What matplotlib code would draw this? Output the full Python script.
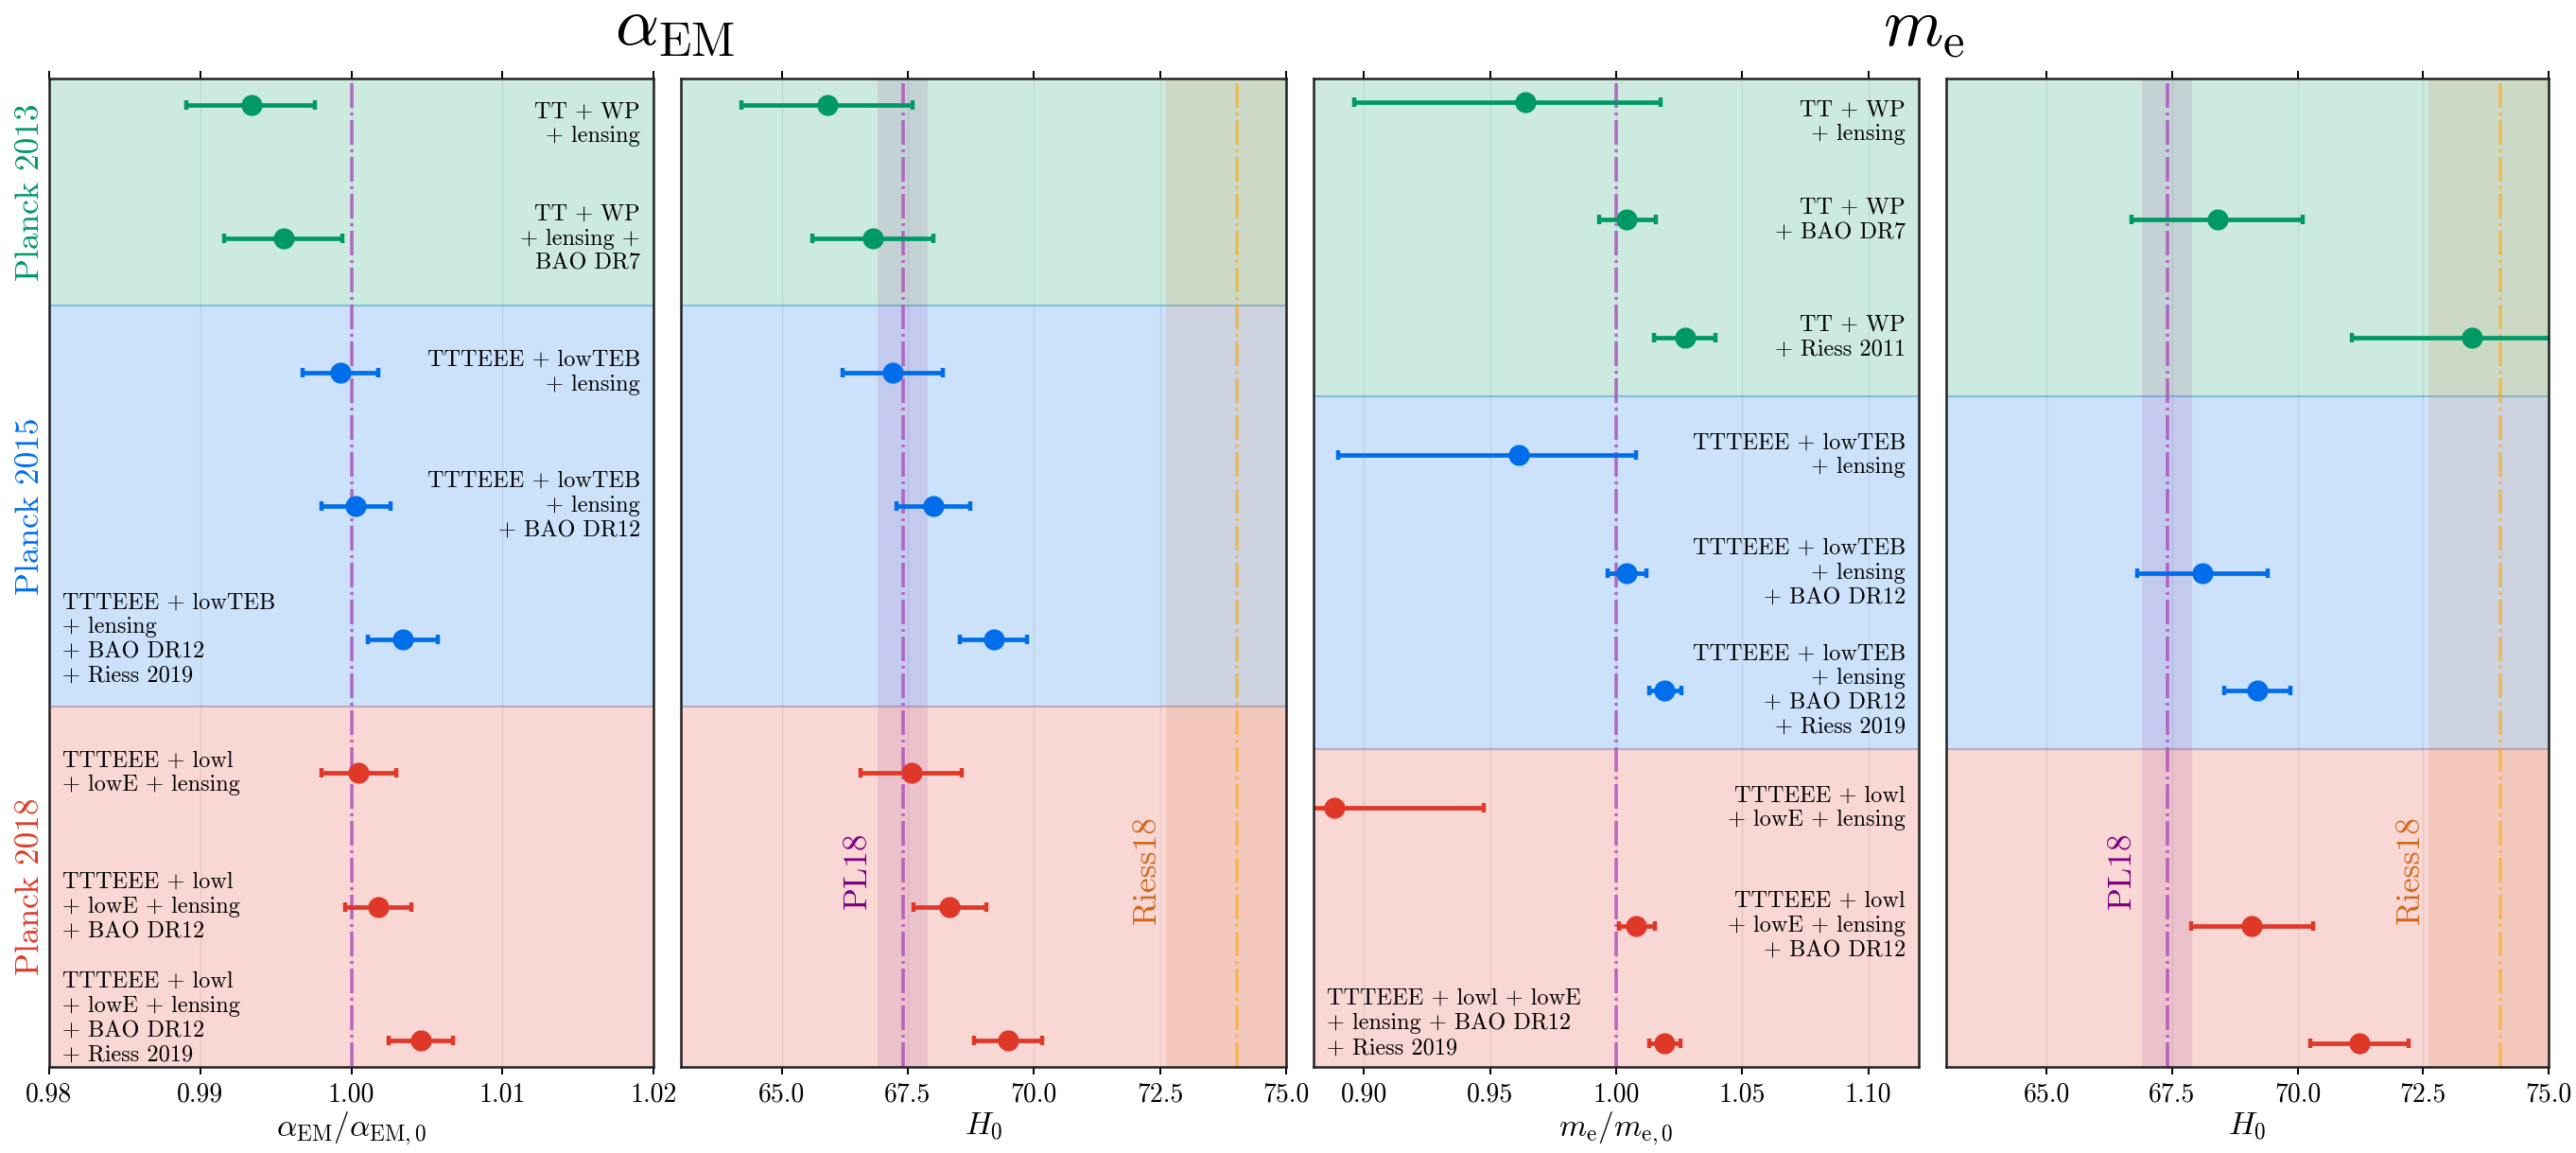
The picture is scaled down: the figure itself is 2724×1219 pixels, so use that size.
import numpy as np
import matplotlib
matplotlib.use("Agg")
import matplotlib.pyplot as plt
import matplotlib.transforms as mtransforms
from matplotlib.ticker import MultipleLocator, FormatStrFormatter

plt.rcParams["font.family"] = "serif"
plt.rcParams["font.serif"] = ["cmr10"]
plt.rcParams["mathtext.fontset"] = "cm"
plt.rcParams["axes.formatter.use_mathtext"] = True
plt.rcParams["axes.unicode_minus"] = False

GREEN = "#009966"
BLUE = "#006eeb"
RED = "#e03828"
GROUP_COLORS = [GREEN, BLUE, RED]
GROUP_NAMES = ["Planck 2013", "Planck 2015", "Planck 2018"]

# --- alpha_EM runs ---
alpha_group = [0, 0, 1, 1, 1, 2, 2, 2]
alpha_labels = [
    "TT + WP\n+ lensing",
    "TT + WP\n+ lensing +\nBAO DR7",
    "TTTEEE + lowTEB\n+ lensing",
    "TTTEEE + lowTEB\n+ lensing\n+ BAO DR12",
    "TTTEEE + lowTEB\n+ lensing\n+ BAO DR12\n+ Riess 2019",
    "TTTEEE + lowl\n+ lowE + lensing",
    "TTTEEE + lowl\n+ lowE + lensing\n+ BAO DR12",
    "TTTEEE + lowl\n+ lowE + lensing\n+ BAO DR12\n+ Riess 2019",
]
alpha_val = [0.9934, 0.9955, 0.9993, 1.0003, 1.0034, 1.0005, 1.0018, 1.0046]
alpha_lo = [0.0043, 0.0039, 0.0025, 0.0023, 0.0023, 0.0025, 0.0022, 0.0021]
alpha_hi = [0.0042, 0.0039, 0.0025, 0.0023, 0.0023, 0.0025, 0.0022, 0.0021]
alpha_H0 = [65.9, 66.8, 67.2, 68.0, 69.2, 67.57, 68.33, 69.49]
alpha_H0_err = [1.7, 1.2, 1.0, 0.73, 0.66, 1.0, 0.72, 0.67]

# --- m_e runs ---
me_group = [0, 0, 0, 1, 1, 1, 2, 2, 2]
me_labels = [
    "TT + WP\n+ lensing",
    "TT + WP\n+ BAO DR7",
    "TT + WP\n+ Riess 2011",
    "TTTEEE + lowTEB\n+ lensing",
    "TTTEEE + lowTEB\n+ lensing\n+ BAO DR12",
    "TTTEEE + lowTEB\n+ lensing\n+ BAO DR12\n+ Riess 2019",
    "TTTEEE + lowl\n+ lowE + lensing",
    "TTTEEE + lowl\n+ lowE + lensing\n+ BAO DR12",
    "TTTEEE + lowl + lowE\n+ lensing + BAO DR12\n+ Riess 2019",
]
me_val = [0.9639, 1.0041, 1.0272, 0.9613, 1.0041, 1.0193, 0.8881, 1.0080, 1.0193]
me_lo = [0.0676, 0.0110, 0.0121, 0.0717, 0.0075, 0.0060, 0.0600, 0.0069, 0.0060]
me_hi = [0.0537, 0.0115, 0.0123, 0.0467, 0.0079, 0.0064, 0.0595, 0.0074, 0.0061]
me_H0 = [np.nan, 68.4, 73.48, np.nan, 68.1, 69.2, np.nan, 69.09, 71.23]
me_H0_err = [np.nan, 1.7, 2.39, np.nan, 1.3, 0.66, np.nan, 1.21, 0.98]

# reference H0 values
PL18_H0, PL18_err = 67.4, 0.5
RIESS_H0, RIESS_err = 74.03, 1.42

# label layout (side of the panel, vertical nudge in row units)
alpha_side = ["right", "right", "right", "right", "left", "left", "left", "left"]
alpha_shift = [0.14, 0, 0, 0, 0, 0, 0, -0.165]
me_side = ["right"] * 8 + ["left"]
me_shift = [0.17, 0, 0, 0, 0, 0, 0, 0, -0.17]

LINE_PURPLE = "#a844b8"

W, H = 2724, 1219
fig = plt.figure(figsize=(W / 100, H / 100), dpi=100)
bottom = 1 - 1128 / H
height = 1045 / H
lefts = [52, 720, 1389, 2058]
widths = [639, 640, 640, 637]
axes = [fig.add_axes([l / W, bottom, w / W, height]) for l, w in zip(lefts, widths)]


def style(ax, groups, xlim, major, fmt):
    n = len(groups)
    ax.set_xlim(*xlim)
    ax.set_ylim(n - 1 + 0.2, -0.2)
    groups = np.array(groups)
    for g in range(3):
        idx = np.where(groups == g)[0]
        lo = idx.min() - 0.5 if idx.min() > 0 else -1
        hi = idx.max() + 0.5 if idx.max() < n - 1 else n + 1
        ax.axhspan(lo, hi, color=GROUP_COLORS[g], alpha=0.2, lw=1.5, zorder=0.8)
    ax.xaxis.set_major_locator(MultipleLocator(major))
    ax.xaxis.set_major_formatter(FormatStrFormatter(fmt))
    ax.set_yticks([])
    ax.tick_params(axis="x", which="both", direction="out", top=True, bottom=True,
                   labeltop=False, labelbottom=True, length=6, width=1.4,
                   labelsize=20, pad=6)
    ax.grid(axis="x", color="gray", alpha=0.15, lw=1)
    ax.set_axisbelow(True)
    for sp in ax.spines.values():
        sp.set_linewidth(1.8)
        sp.set_color("#222222")
        sp.set_zorder(5)


def points(ax, groups, val, lo, hi):
    for i, g in enumerate(groups):
        if np.isnan(val[i]):
            continue
        ax.errorbar(val[i], i, xerr=[[lo[i]], [hi[i]]], fmt="o", color=GROUP_COLORS[g],
                    ms=15, elinewidth=3.4, capsize=3.4, capthick=3.2, zorder=3)


def labels(ax, texts, side, shift):
    for i, (t, s, d) in enumerate(zip(texts, side, shift)):
        trans = mtransforms.blended_transform_factory(ax.transAxes, ax.transData)
        x = 0.978 if s == "right" else 0.022
        ax.text(x, i + d, t, transform=trans, ha=s, va="center", fontsize=17.5,
                linespacing=1.22, zorder=4)


DASH = (0, (7.2, 1.4, 0.8, 1.4))


def h0_refs(ax):
    ax.axvspan(PL18_H0 - PL18_err, PL18_H0 + PL18_err, color="purple", alpha=0.1, lw=0, zorder=1)
    ax.axvspan(RIESS_H0 - RIESS_err, RIESS_H0 + RIESS_err, color="chocolate", alpha=0.13,
               lw=0, zorder=1)
    ax.axvline(PL18_H0, color=LINE_PURPLE, alpha=0.75, lw=2.6, ls=DASH, zorder=2)
    ax.axvline(RIESS_H0, color="orange", alpha=0.55, lw=2.6, ls=DASH, zorder=2)
    trans = mtransforms.blended_transform_factory(ax.transData, ax.transAxes)
    ax.text(66.5, 0.199, "PL18", transform=trans, rotation=90, ha="center", va="center",
            fontsize=25.5, color="purple")
    ax.text(72.25, 0.199, "Riess18", transform=trans, rotation=90, ha="center",
            va="center", fontsize=25.5, color="chocolate")


ax1, ax2, ax3, ax4 = axes

style(ax1, alpha_group, (0.98, 1.02), 0.01, "%.2f")
ax1.axvline(1.0, color=LINE_PURPLE, alpha=0.75, lw=2.6, ls=DASH, zorder=2)
points(ax1, alpha_group, alpha_val, alpha_lo, alpha_hi)
labels(ax1, alpha_labels, alpha_side, alpha_shift)
ax1.set_xlabel(r"$\alpha_{\rm EM}/\alpha_{\rm EM,0}$", fontsize=24, labelpad=2)
trans = mtransforms.blended_transform_factory(ax1.transAxes, ax1.transData)
ga = np.array(alpha_group)
for g in range(3):
    idx = np.where(ga == g)[0]
    lo = max(idx.min() - 0.5, -0.2)
    hi = min(idx.max() + 0.5, len(ga) - 0.8)
    ax1.text(-0.031, (lo + hi) / 2, GROUP_NAMES[g], transform=trans, rotation=90,
             ha="center", va="center", fontsize=25.5, color=GROUP_COLORS[g])

style(ax2, alpha_group, (63, 75), 2.5, "%.1f")
h0_refs(ax2)
points(ax2, alpha_group, alpha_H0, alpha_H0_err, alpha_H0_err)
ax2.set_xlabel(r"$H_0$", fontsize=24, labelpad=2)

style(ax3, me_group, (0.88, 1.12), 0.05, "%.2f")
ax3.axvline(1.0, color=LINE_PURPLE, alpha=0.75, lw=2.6, ls=DASH, zorder=2)
points(ax3, me_group, me_val, me_lo, me_hi)
labels(ax3, me_labels, me_side, me_shift)
ax3.set_xlabel(r"$m_{\rm e}/m_{\rm e,0}$", fontsize=24, labelpad=2)

style(ax4, me_group, (63, 75), 2.5, "%.1f")
h0_refs(ax4)
points(ax4, me_group, me_H0, me_H0_err, me_H0_err)
ax4.set_xlabel(r"$H_0$", fontsize=24, labelpad=2)

fig.text(714 / W, 1 - 48 / H, r"$\alpha_{\rm EM}$", ha="center", va="baseline", fontsize=52)
fig.text(2034 / W, 1 - 48 / H, r"$m_{\rm e}$", ha="center", va="baseline", fontsize=52)

fig.savefig("out.png", dpi=100)
